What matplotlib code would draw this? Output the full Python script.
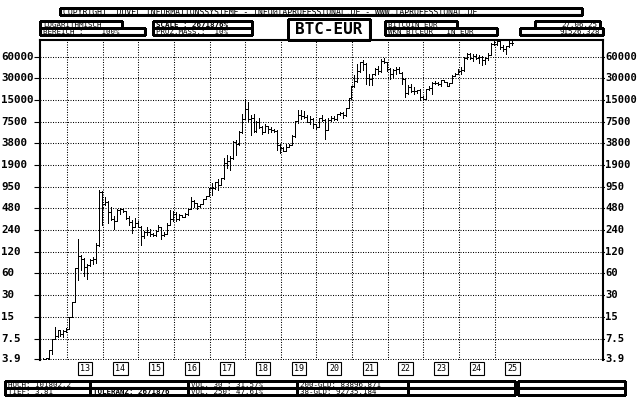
import numpy as np
import matplotlib
matplotlib.use("Agg")
import matplotlib.pyplot as plt
import matplotlib.transforms as mtransforms
from matplotlib.patches import Rectangle

plt.rcParams['font.family'] = ['DejaVu Sans Mono', 'DejaVu Sans']

# monthly bars, first one is april 2012 (month index counted from jan 2013)
first_month = -9

bar_open = [3.85, 3.95, 4.05, 5.3, 7.5, 8.3, 9.8, 8.7, 9.5,
            10.3, 14.9, 24.3, 71, 105, 95, 73, 78, 92, 96, 150, 800,
            540, 590, 420, 335, 320, 460, 470, 440, 355, 305, 265, 300,
            265, 195, 225, 225, 210, 205, 235, 260, 205, 210, 285, 345,
            395, 340, 390, 365, 395, 475, 600, 565, 515, 545, 640, 705,
            920, 900, 1120, 1000, 1240, 2050, 2150, 2400, 3950, 3650, 5450, 8300,
            11200, 8200, 8600, 5600, 7500, 6400, 5450, 6500, 6000, 5700, 5600, 3550,
            3250, 3000, 3380, 3640, 4750, 7650, 9300, 9000, 8700, 7400, 8200, 6900,
            6400, 8400, 7900, 5800, 8000, 8500, 8100, 9600, 9800, 9200, 11700, 16300,
            23800, 27200, 37500, 50000, 47500, 30500, 29300, 35000, 40000, 37500, 52800, 50800,
            40800, 34000, 39000, 41000, 36000, 29500, 19100, 22900, 20000, 19800, 20700, 16400,
            15500, 21300, 21800, 26100, 26100, 25300, 28100, 26500, 23800, 25600, 32500, 34600,
            38000, 39000, 57000, 65500, 56500, 62000, 58000, 60000, 53000, 57000, 64000, 91000,
            90000, 98000, 81000, 76000, 83500, 93000]
bar_high = [4.0, 4.1, 5.3, 7.5, 11.0, 10.0, 9.9, 9.8, 10.6,
            15.0, 24.5, 72, 180, 108, 97, 80, 95, 100, 157, 860, 840,
            690, 600, 500, 380, 470, 490, 480, 445, 380, 330, 355, 315,
            270, 235, 265, 245, 220, 240, 285, 265, 225, 300, 450, 435,
            420, 400, 390, 410, 480, 680, 620, 575, 545, 650, 710, 920,
            1070, 1120, 1200, 1250, 2400, 2600, 2550, 4100, 4200, 5600, 9600, 15400,
            14000, 9300, 9700, 7800, 8400, 6600, 7100, 6500, 6300, 5900, 5700, 3700,
            3400, 3700, 3650, 4900, 7800, 11000, 10800, 10500, 9300, 9000, 8500, 6900,
            8500, 9400, 8300, 8400, 9000, 9000, 9700, 10300, 10200, 11800, 16300, 23500,
            33000, 47000, 51000, 53500, 48500, 34000, 35000, 42000, 44000, 55000, 57500, 51000,
            42000, 40000, 43500, 43000, 36300, 30200, 24500, 25000, 22700, 21000, 21500, 17300,
            21500, 23500, 26700, 28000, 26700, 28300, 28600, 27000, 25800, 33000, 35200, 40000,
            43000, 59000, 67000, 66500, 66000, 66000, 64000, 60500, 59000, 67000, 94000, 101500,
            101802.2, 99000, 88000, 85000, 99500, 98000]
bar_low = [3.81, 3.9, 3.9, 4.6, 7.4, 8.0, 8.2, 8.0, 9.3,
           10.2, 14.8, 24.0, 48, 68, 55, 50, 75, 82, 85, 145, 280,
           530, 300, 330, 250, 315, 400, 420, 340, 280, 215, 260, 260,
           150, 185, 205, 195, 200, 200, 235, 180, 200, 210, 280, 320,
           320, 330, 360, 365, 390, 470, 500, 470, 500, 540, 640, 700,
           720, 880, 850, 990, 1230, 1700, 1600, 2300, 2600, 3550, 5300, 8300,
           7700, 4900, 5400, 5400, 6200, 5100, 5400, 5300, 5500, 5400, 3100, 2800,
           2950, 2950, 3350, 3600, 4700, 7300, 8300, 8500, 7400, 6900, 6100, 5900,
           6300, 7800, 4300, 5800, 7700, 7900, 7900, 9400, 8600, 9100, 11500, 15500,
           23000, 27000, 36500, 39000, 25000, 24500, 24600, 33000, 34000, 37000, 48500, 37500,
           29500, 31700, 34600, 35200, 24800, 16600, 18300, 19700, 18500, 18800, 15200, 15300,
           15400, 20800, 18500, 24900, 24500, 23500, 26300, 23300, 23500, 25500, 32000, 34000,
           35000, 38500, 55000, 55000, 52500, 55000, 49500, 45500, 47000, 54500, 62500, 88000,
           87000, 75500, 71500, 66000, 82000, 86500]
bar_close = [3.95, 4.05, 5.3, 7.5, 8.3, 9.8, 8.7, 9.5, 10.3,
             14.9, 24.3, 71, 105, 95, 73, 78, 92, 96, 150, 800, 540,
             590, 420, 335, 320, 460, 470, 440, 355, 305, 265, 300, 265,
             195, 225, 225, 210, 205, 235, 260, 205, 210, 285, 345, 395,
             340, 390, 365, 395, 475, 600, 565, 515, 545, 640, 705, 920,
             900, 1120, 1000, 1240, 2050, 2150, 2400, 3950, 3650, 5450, 8300, 11200,
             8200, 8600, 5600, 7500, 6400, 5450, 6500, 6000, 5700, 5600, 3550, 3250,
             3000, 3380, 3640, 4750, 7650, 9300, 9000, 8700, 7400, 8200, 6900, 6400,
             8400, 7900, 5800, 8000, 8500, 8100, 9600, 9800, 9200, 11700, 16300, 23300,
             27200, 37500, 50000, 47500, 30500, 29300, 35000, 40000, 37500, 52800, 50800, 40800,
             34000, 39000, 41000, 36000, 29500, 19100, 22900, 20000, 19800, 20700, 16400, 15500,
             21300, 21800, 26100, 26100, 25300, 28100, 26500, 23800, 25600, 32500, 34600, 38000,
             39000, 57000, 65500, 56500, 62000, 58000, 60000, 53000, 57000, 64000, 91000, 90000,
             98000, 81000, 76000, 83500, 93000, 91526.328]

year_labels = ['13', '14', '15', '16', '17', '18', '19', '20', '21', '22', '23', '24', '25']
tick_vals = [3.9, 7.5, 15, 30, 60, 120, 240, 480, 950, 1900, 3800, 7500, 15000, 30000, 60000]
tick_labels = ['3.9', '7.5', '15', '30', '60', '120', '240', '480', '950', '1900',
               '3800', '7500', '15000', '30000', '60000']

hoch = 101802.2
tief = 3.81

fig = plt.figure(figsize=(6.4, 4.0), dpi=100)
fig.patch.set_facecolor('white')

# main chart, pixel box x 40..603, y 40..360
ax = fig.add_axes([40 / 640, 40 / 400, 563 / 640, 320 / 400])
ax.set_yscale('log')
ax.set_ylim(tief, hoch)
ax.set_xlim(-9.1, 180.5)

x = np.arange(first_month, first_month + len(bar_close)) + 0.8
kw = dict(color='black', linewidth=0.72, antialiased=False, zorder=3)
ax.vlines(x, bar_low, bar_high, **kw)
ax.hlines(bar_open, x - 0.4, x, **kw)
ax.hlines(bar_close, x, x + 0.4, **kw)

# dotted grid
dot = (0, (1, 1.4))
for v in tick_vals:
    ax.axhline(v, color='black', lw=0.75, ls=dot, zorder=1)
year_starts = np.arange(len(year_labels)) * 12
for xs in year_starts:
    ax.axvline(xs, color='black', lw=0.75, ls=dot, zorder=1)

ax.set_yticks(tick_vals)
ax.set_yticklabels([])
ax.minorticks_off()
ax.set_xticks([])
ax.tick_params(axis='y', direction='out', length=4, width=0.8, left=True, right=True,
               labelleft=False, labelright=False)
for s in ['left', 'right', 'top']:
    ax.spines[s].set_linewidth(1.5)
ax.spines['bottom'].set_visible(False)

# tick labels, left ones start at the figure edge
tl = mtransforms.blended_transform_factory(fig.transFigure, ax.transData)
for v, lab in zip(tick_vals, tick_labels):
    ax.text(1 / 640, v, lab, transform=tl, ha='left', va='center', fontsize=7.8,
            fontweight='bold', clip_on=False, zorder=5,
            bbox=dict(facecolor='white', edgecolor='none', pad=0.3))
    ax.text(605 / 640, v, lab, transform=tl, ha='left', va='center', fontsize=7.6,
            fontweight='bold', clip_on=False, zorder=5,
            bbox=dict(facecolor='white', edgecolor='none', pad=0.3))

# year boxes under the chart
tx = ax.get_xaxis_transform()
for i, lab in enumerate(year_labels):
    ax.text(year_starts[i] + 6, -0.027, lab, transform=tx, ha='center', va='center',
            fontsize=6, clip_on=False,
            bbox=dict(boxstyle='square,pad=0.25', facecolor='white', edgecolor='black', lw=0.8))

# overlay in pixel coordinates for the info boxes
ov = fig.add_axes([0, 0, 1, 1], zorder=10)
ov.set_xlim(0, 640)
ov.set_ylim(400, 0)
ov.axis('off')
ov.patch.set_visible(False)


def box(x0, y0, w, h, text='', bold=False, size=5.4, ha='left', thick=False):
    r = Rectangle((x0, y0), w, h, facecolor='white', edgecolor='black', lw=0.75,
                  antialiased=False)
    ov.add_patch(r)
    if thick:
        ov.plot([x0, x0 + w], [y0 + h, y0 + h], color='black', lw=1.5, solid_capstyle='butt')
        ov.plot([x0 + w, x0 + w], [y0, y0 + h], color='black', lw=1.5, solid_capstyle='butt')
    if text:
        tx0 = x0 + 3 if ha == 'left' else x0 + w - 3
        t = ov.text(tx0, y0 + h / 2 + 0.4, text, ha=ha, va='center', fontsize=size,
                    fontweight='bold' if bold else 'normal')
        t.set_clip_path(r)


box(60, 8, 522, 7, 'COPYRIGHT  DUVEL INFORMATIONSSYSTEME - INFO@TAPROFESSIONAL.DE - WWW.TAPROFESSIONAL.DE',
    size=5.9, thick=True)
box(40, 21, 82, 7, 'LOGARITHMISCH')
box(40, 28, 105, 7, 'BEREICH :    100%', thick=True)
box(153, 21, 99, 7, 'SCALE : 2671876%', bold=True)
box(153, 28, 99, 7, 'PROZ.MASS.:  10%')
box(288, 19, 82, 21, thick=True)
ov.text(329, 30, 'BTC-EUR', ha='center', va='center', fontsize=11.5, fontweight='bold')
box(385, 21, 72, 7, 'BITCOIN EUR')
box(385, 28, 112, 7, 'WKN BTCEUR   IN EUR')
box(535, 21, 65, 7, '27.06.25', ha='right')
box(520, 28, 83, 7, '91526.328', ha='right', thick=True)

# bottom info rows
cells = [5, 90, 188, 297, 408, 518]
cell_w = [85, 98, 109, 111, 107, 107]
row1 = ['HOCH: 101802.2', '', 'VOL. 30 : 31.57%', '200-GLD: 83896.871', '', '']
row2 = ['TIEF: 3.81', 'TOLERANZ: 2671876', 'VOL. 250: 47.61%', '38-GLD: 92735.184', '', '']
for i in range(len(cells)):
    x0 = cells[i]
    box(x0, 381, cell_w[i], 7, row1[i])
    box(x0, 388, cell_w[i], 7, row2[i], bold=(i == 1))
    ov.plot([x0, x0 + cell_w[i]], [388, 388], color='black', lw=1.5, solid_capstyle='butt')

fig.savefig('out.png', dpi=100, facecolor='white')
